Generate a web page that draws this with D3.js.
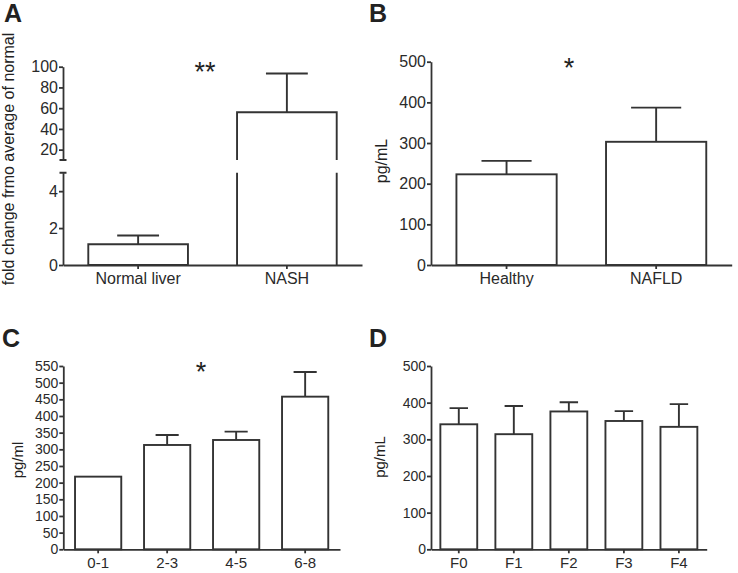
<!DOCTYPE html>
<html lang="en">
<head>
<meta charset="UTF-8">
<title>4 panel bars</title>
<script src="https://d3js.org/d3.v7.min.js"></script>
<style>
  body { margin: 0; background: #fff; }
  svg { font-family: Arial, "Liberation Sans", sans-serif; }
  .axis path, .axis line { fill: none; stroke: #333; stroke-width: 1.8; }
  .axis text { fill: #2a2a2a; }
  .bar { fill: #fff; stroke: #333; stroke-width: 1.9; }
  .err { fill: none; stroke: #333; stroke-width: 1.9; }
</style>
</head>
<body>
<script>
// ---- data ----
var catsA = ["Normal liver", "NASH"];
var meanA = [1.12, 56];
var semA = [0.48, 37.4];
var ticksAlow = [0, 2, 4];
var ticksAhigh = [20, 40, 60, 80, 100];

var catsB = ["Healthy", "NAFLD"];
var meanB = [223, 303];
var semB = [33, 84];
var ticksB = [0, 100, 200, 300, 400, 500];

var catsC = ["0-1", "2-3", "4-5", "6-8"];
var meanC = [218, 313, 328, 458];
var semC = [0, 30, 25, 74];
var ticksC = [0, 50, 100, 150, 200, 250, 300, 350, 400, 450, 500, 550];

var catsD = ["F0", "F1", "F2", "F3", "F4"];
var meanD = [341, 314, 376, 350, 334];
var semD = [44, 77, 25, 27, 62];
var ticksD = [0, 100, 200, 300, 400, 500];

var width = 738, height = 573;
var svg = d3.select("body").append("svg")
    .attr("width", width).attr("height", height);

function bandScale(cats, x0, x1) {
  return d3.scaleBand().domain(cats).range([x0, x1])
      .paddingInner(0.33).paddingOuter(0.17);
}

function xAxis(g, x, y0, fs) {
  var ax = g.append("g").attr("class", "axis")
      .attr("transform", "translate(0," + y0 + ")")
      .call(d3.axisBottom(x).tickSize(4).tickSizeOuter(0).tickPadding(4));
  ax.selectAll("text").style("font-size", fs + "px");
  return ax;
}

function yAxis(g, y, x0, ticks, fs) {
  var ax = g.append("g").attr("class", "axis")
      .attr("transform", "translate(" + x0 + ",0)")
      .call(d3.axisLeft(y).tickValues(ticks).tickFormat(d3.format("d"))
            .tickSize(4).tickSizeOuter(0).tickPadding(1));
  ax.selectAll("text").style("font-size", fs + "px");
  return ax;
}

function errBars(g, x, y, cats, means, sems, capFrac) {
  var data = cats.map(function(c, i) { return {c: c, m: means[i], s: sems[i]}; })
      .filter(function(d) { return d.s > 0; });
  var bw = x.bandwidth(), cw = bw * capFrac;
  g.selectAll(null).data(data).enter().append("path").attr("class", "err")
      .attr("d", function(d) {
        var cx = x(d.c) + bw / 2;
        return "M" + cx + "," + y(d.m) + "V" + y(d.m + d.s) +
               "M" + (cx - cw / 2) + "," + y(d.m + d.s) + "H" + (cx + cw / 2);
      });
}

function label(txt, x, y, fs, weight, rotate, anchor) {
  var t = svg.append("text").text(txt)
      .attr("font-size", fs).attr("fill", "#222")
      .attr("font-weight", weight || "normal")
      .attr("text-anchor", anchor || "start");
  if (rotate) t.attr("transform", "translate(" + x + "," + y + ") rotate(-90)").attr("text-anchor", "middle");
  else t.attr("x", x).attr("y", y);
  return t;
}

function panel(o) {
  var g = svg.append("g");
  var x = bandScale(o.cats, o.x0, o.x1);
  var y = d3.scaleLinear().domain([0, o.max]).range([o.y0, o.y1]);
  errBars(g, x, y, o.cats, o.means, o.sems, 0.5);
  g.selectAll(".bar").data(o.cats).enter().append("rect").attr("class", "bar")
      .attr("x", function(d) { return x(d); })
      .attr("width", x.bandwidth())
      .attr("y", function(d, i) { return y(o.means[i]); })
      .attr("height", function(d, i) { return y(0) - y(o.means[i]); });
  xAxis(g, x, o.y0, o.catFs);
  yAxis(g, y, o.x0, o.ticks, o.tickFs);
}

// ---- panel A (broken y axis) ----
(function() {
  var g = svg.append("g");
  var x0 = 63, x1 = 362;
  var x = bandScale(catsA, x0, x1);
  var yLo = d3.scaleLinear().domain([0, 5]).range([265, 172.7]);
  var yHi = d3.scaleLinear().domain([10, 100]).range([160, 66.7]);
  var bw = x.bandwidth();
  var data = catsA.map(function(c, i) { return {c: c, m: meanA[i], s: semA[i]}; });

  // error bars
  g.selectAll(null).data(data).enter().append("path").attr("class", "err")
      .attr("d", function(d) {
        var y = d.m > 10 ? yHi : yLo;
        var cx = x(d.c) + bw / 2, cw = bw * 0.42;
        return "M" + cx + "," + y(d.m) + "V" + y(d.m + d.s) +
               "M" + (cx - cw / 2) + "," + y(d.m + d.s) + "H" + (cx + cw / 2);
      });
  // bars, lower segment
  g.selectAll(null).data(data).enter().append("path").attr("class", "bar")
      .attr("d", function(d) {
        var l = x(d.c), r = l + bw;
        if (d.m <= 5) return "M" + l + "," + yLo(0) + "V" + yLo(d.m) + "H" + r + "V" + yLo(0) + "Z";
        return "M" + l + "," + yLo(0) + "V" + yLo(5) + "M" + r + "," + yLo(5) + "V" + yLo(0);
      });
  // bars, upper segment
  g.selectAll(null).data(data.filter(function(d) { return d.m > 10; })).enter()
      .append("path").attr("class", "bar").style("fill", "#fff")
      .attr("d", function(d) {
        var l = x(d.c), r = l + bw;
        return "M" + l + "," + yHi(10) + "V" + yHi(d.m) + "H" + r + "V" + yHi(10);
      });

  xAxis(g, x, yLo(0), 16);
  yAxis(g, yLo, x0, ticksAlow, 16);
  yAxis(g, yHi, x0, ticksAhigh, 16);
  // break caps
  g.append("path").attr("class", "err")
      .attr("d", "M" + (x0 - 3.5) + "," + yHi(10) + "H" + (x0 + 3.5) +
                 "M" + (x0 - 3.5) + "," + yLo(5) + "H" + (x0 + 3.5));
})();

panel({cats: catsB, means: meanB, sems: semB, ticks: ticksB, max: 500,
       x0: 431, x1: 731.7, y0: 265, y1: 61.7, tickFs: 16, catFs: 16});
panel({cats: catsC, means: meanC, sems: semC, ticks: ticksC, max: 550,
       x0: 63.3, x1: 340, y0: 549.3, y1: 366, tickFs: 14, catFs: 15});
panel({cats: catsD, means: meanD, sems: semD, ticks: ticksD, max: 500,
       x0: 431, x1: 706.7, y0: 549.3, y1: 366, tickFs: 14, catFs: 15});

// ---- texts ----
label("A", 4, 22, 25, "bold");
label("B", 369, 22, 25, "bold");
label("C", 2, 347, 25, "bold");
label("D", 369, 347, 25, "bold");

label("fold change frmo average of normal", 14, 159, 16, null, true);
label("pg/mL", 387, 161, 16, null, true);
label("pg/ml", 23, 460, 15, null, true);
label("pg/mL", 385, 457, 15, null, true);

label("**", 205, 81, 27, null, false, "middle");
label("*", 569, 77, 27, null, false, "middle");
label("*", 201, 381, 27, null, false, "middle");
</script>
</body>
</html>
